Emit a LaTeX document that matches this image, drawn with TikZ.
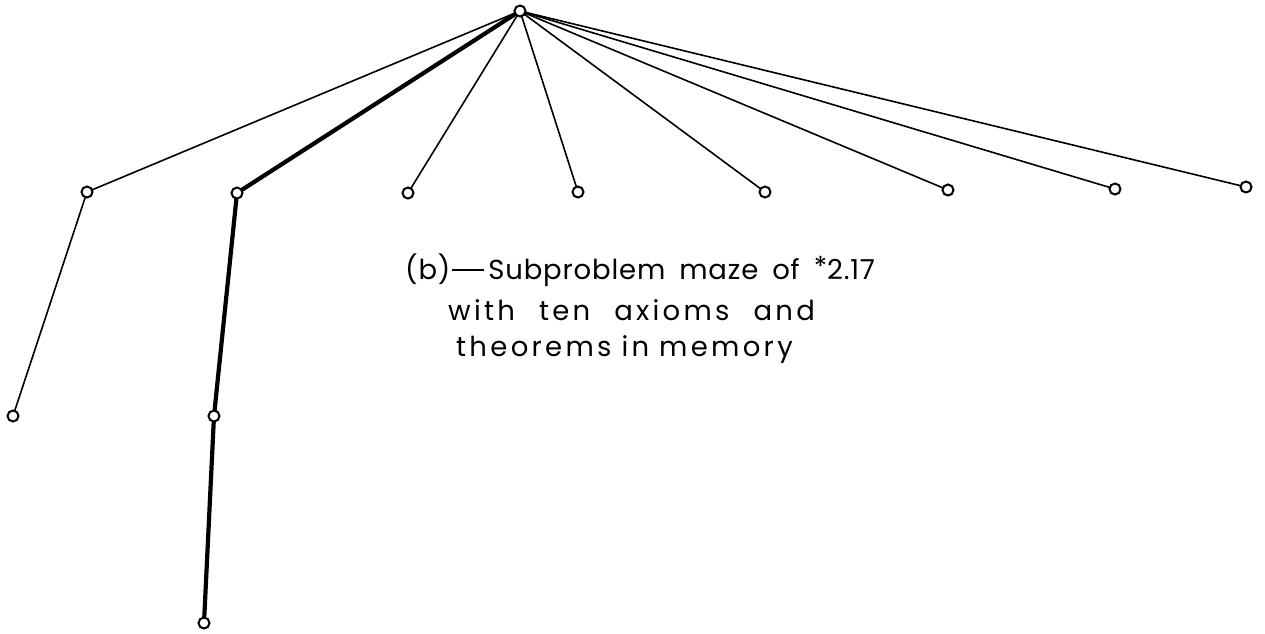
\documentclass[tikz,border=0pt]{standalone}
\usepackage{fontspec}
\setmainfont{Poppins}
\begin{document}
\begin{tikzpicture}[x=1pt,y=-1pt,
  pt/.style={circle,draw,fill=white,line width=2pt,minimum size=11pt,inner sep=0pt},
  thinline/.style={line width=1.6pt},
  heavy/.style={line width=4.2pt},
  captext/.style={font=\fontsize{27.5}{30}\selectfont, inner sep=0pt}]
\useasboundingbox (0,0) rectangle (1265,633);
\coordinate (r) at (520,11);
\coordinate (a) at (87,192);
\coordinate (b) at (237,193);
\coordinate (c) at (408,193);
\coordinate (d) at (578,192);
\coordinate (e) at (765,192);
\coordinate (f) at (948,190);
\coordinate (g) at (1115,189);
\coordinate (h) at (1246,187);
\coordinate (a1) at (13,416);
\coordinate (b1) at (214,416);
\coordinate (b2) at (204,623);
\foreach \t in {a,c,d,e,f,g,h} \draw[thinline] (r) -- (\t);
\draw[thinline] (a) -- (a1);
\draw[heavy] (r) -- (b) -- (b1) -- (b2);
\foreach \t in {r,a,b,c,d,e,f,g,h,a1,b1,b2} \node[pt] (n\t) at (\t) {};
\node[captext,anchor=west] (t1) at (405,270) {\addfontfeature{LetterSpace=3}(b)\kern2pt\rule[8pt]{32pt}{1.8pt}\kern4pt Subproblem\hspace{14pt}maze\hspace{14pt}of\hspace{14pt}\raisebox{3pt}{*}2.17};
\node[captext,anchor=west] (t2) at (448,310) {\addfontfeature{LetterSpace=12}with\hspace{24pt}ten\hspace{24pt}axioms\hspace{24pt}and};
\node[captext,anchor=west] (t3) at (456,350) {\addfontfeature{LetterSpace=12}theorems\hspace{10pt}in\hspace{10pt}memory};
\end{tikzpicture}
\end{document}
